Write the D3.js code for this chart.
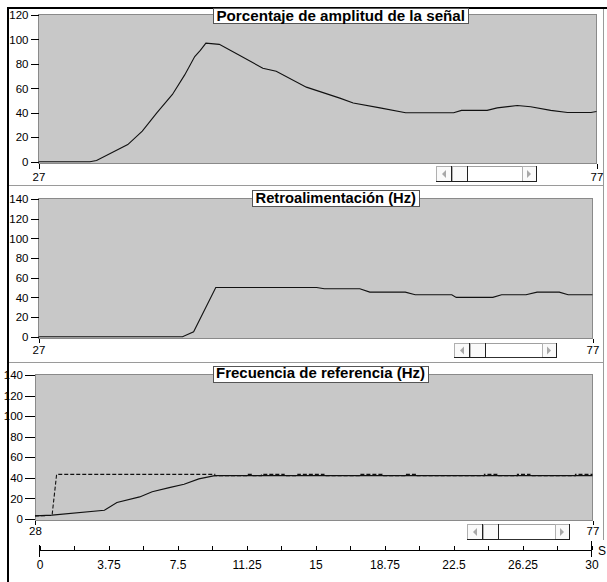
<!DOCTYPE html>
<html><head><meta charset="utf-8">
<script src="https://cdn.jsdelivr.net/npm/d3@7"></script>
<style>
html,body{margin:0;padding:0;background:#fff;}
svg{display:block;font-family:"Liberation Sans",Arial,Helvetica,sans-serif;}
</style></head><body>
<svg id="c" width="607" height="582"></svg>
<script>
// ---------------- DATA ----------------
const amplitudTitle = "Porcentaje de amplitud de la señal";
const amplitudX = [27,31.6,32.2,35,36.3,37.6,39,40.1,41,41.5,42,43.2,45,47.1,48.3,51,54,55.2,57.6,59.9,64.2,64.9,67.2,68.1,69.9,71.1,72.9,74.4,76.5,77];
const amplitudY = [0,0,1,14,25,40,55,71,86,91,97,96,87,76.5,74,61,52,48,44,40,40,42,42,44,46,45,42,40.3,40.3,41];

const retroTitle = "Retroalimentación (Hz)";
const retroX = [27,40,41,43,52.1,52.8,56,56.9,60.1,61,64.3,64.7,68,68.8,71,72,74,74.8,77];
const retroY = [0,0,5,50,50,48.7,48.7,45.3,45.3,42.6,42.6,40,40,42.6,42.6,45.3,45.3,42.6,42.6];

const frecTitle = "Frecuencia de referencia (Hz)";
const frecRealX = [28,29.5,34.1,35.2,37.2,38.3,39.8,41.1,42.4,43.8,77];
const frecRealY = [3,3.8,8.5,16,21.5,26.5,30.5,33.7,39,42.2,42.2];
const frecRefX = [28,29.5,29.9,43.8,43.8,46.6,46.6,47.1,47.1,47.9,47.9,49.9,49.9,51.1,51.1,53.4,53.4,56.5,56.5,58.5,58.5,60.5,60.5,61.5,61.5,67.5,67.5,68.6,68.6,70.4,70.4,71.5,71.5,75.5,75.5,77];
const frecRefY = [3,3.5,43.4,43.4,42.2,42.2,43.4,43.4,42.2,42.2,43.4,43.4,42.2,42.2,43.4,43.4,42.2,42.2,43.4,43.4,42.2,42.2,43.4,43.4,42.2,42.2,43.4,43.4,42.2,42.2,43.4,43.4,42.2,42.2,43.4,43.4];

const yTicks120 = [0,20,40,60,80,100,120];
const yTicks140 = [0,20,40,60,80,100,120,140];
const xEndsA = [27,77];
const xEndsB = [28,77];

const timeTicks = [0,3.75,7.5,11.25,15,18.75,22.5,26.25,30];
const timeLabels = ["0","3.75","7.5","11.25","15","18.75","22.5","26.25","30"];
const timeUnit = "S";

// ---------------- DRAW ----------------
const svg = d3.select("#c");
svg.append("rect").attr("width",607).attr("height",582).attr("fill","#fff");

// outer frame
svg.append("line").attr("x1",7).attr("x2",607).attr("y1",8).attr("y2",8).attr("stroke","#000").attr("stroke-width",2);
svg.append("line").attr("x1",8).attr("x2",8).attr("y1",7).attr("y2",582).attr("stroke","#000").attr("stroke-width",2);
svg.append("line").attr("x1",603.5).attr("x2",603.5).attr("y1",9).attr("y2",540).attr("stroke","#9a9a9a");
[185.5,362.5].forEach(yy=>{
  svg.append("line").attr("x1",9).attr("x2",603.5).attr("y1",yy).attr("y2",yy).attr("stroke","#9a9a9a");
});

function drawPanel(p){
  const g = svg.append("g");
  const x = d3.scaleLinear().domain([p.xEnds[0], p.xEnds[1]]).range([p.x0, p.x1]);
  const y = d3.scaleLinear().domain([0, p.yTicks[p.yTicks.length-1]]).range([p.yZero, p.yTop]);
  g.append("rect").attr("x",p.x0).attr("y",p.r0).attr("width",p.x1-p.x0).attr("height",p.r1-p.r0)
    .attr("fill","#c8c8c8").attr("stroke","#8a8a8a").attr("shape-rendering","crispEdges");

  const ya = d3.axisLeft(y).tickValues(p.yTicks).tickFormat(d=>String(d)).tickSize(p.tick).tickPadding(p.tickPad);
  const yg = g.append("g").attr("transform",`translate(${p.x0},0)`).call(ya);
  yg.select(".domain").remove();
  yg.selectAll("line").attr("stroke","#000").attr("shape-rendering","crispEdges");
  yg.selectAll("text").attr("fill","#000").style("font-size","11.5px").style("font-family",'"Liberation Sans",Arial,sans-serif');

  const xa = d3.axisBottom(x).tickValues(p.xEnds).tickFormat(d=>String(d)).tickSize(p.xTick).tickPadding(p.xPad);
  const xg = g.append("g").attr("transform",`translate(0,${p.r1})`).call(xa);
  xg.select(".domain").remove();
  xg.selectAll("line").attr("stroke","#000").attr("shape-rendering","crispEdges");
  xg.selectAll("text").attr("fill","#000").style("font-size","11.5px").style("font-family",'"Liberation Sans",Arial,sans-serif');

  const line = d3.line().x(d=>x(d[0])).y(d=>y(d[1]));
  p.series.forEach(s=>{
    const pts = s.xs.map((v,i)=>[v, s.ys[i]]);
    g.append("path").attr("d", line(pts)).attr("fill","none").attr("stroke","#111")
      .attr("stroke-width",1.1).attr("stroke-dasharray", s.dash || null);
  });

  // title box
  const t = p.title;
  g.append("rect").attr("x",t.x).attr("y",t.y).attr("width",t.w).attr("height",t.h)
    .attr("fill","#fff").attr("stroke","#555").attr("shape-rendering","crispEdges");
  g.append("text").attr("x",t.x+3).attr("y",t.base).text(t.text)
    .attr("textLength", t.w-6).attr("lengthAdjust","spacingAndGlyphs")
    .style("font-size","14px").style("font-weight","bold").attr("fill","#000");

  // scrollbar
  const sb = p.scroll, btn = 16;
  const sg = g.append("g").attr("shape-rendering","crispEdges");
  sg.append("rect").attr("x",sb.x).attr("y",sb.y).attr("width",sb.w).attr("height",sb.h).attr("fill","#fff");
  sg.append("line").attr("x1",sb.x).attr("x2",sb.x+sb.w).attr("y1",sb.y+0.5).attr("y2",sb.y+0.5).attr("stroke","#a0a0a0");
  sg.append("line").attr("x1",sb.x).attr("x2",sb.x+sb.w).attr("y1",sb.y+sb.h-0.5).attr("y2",sb.y+sb.h-0.5).attr("stroke","#303030");
  const button = (bx, bw) => {
    sg.append("rect").attr("x",bx).attr("y",sb.y).attr("width",bw).attr("height",sb.h).attr("fill","#fafafa");
    sg.append("line").attr("x1",bx+0.5).attr("x2",bx+0.5).attr("y1",sb.y).attr("y2",sb.y+sb.h).attr("stroke","#b0b0b0");
    sg.append("line").attr("x1",bx).attr("x2",bx+bw).attr("y1",sb.y+0.5).attr("y2",sb.y+0.5).attr("stroke","#b0b0b0");
    sg.append("line").attr("x1",bx+bw-0.5).attr("x2",bx+bw-0.5).attr("y1",sb.y).attr("y2",sb.y+sb.h).attr("stroke","#202020");
    sg.append("line").attr("x1",bx).attr("x2",bx+bw).attr("y1",sb.y+sb.h-0.5).attr("y2",sb.y+sb.h-0.5).attr("stroke","#202020");
  };
  button(sb.x, btn);
  button(sb.x+btn, btn);
  button(sb.x+sb.w-btn+1, btn-1);
  const cy = sb.y + sb.h/2;
  const lx = sb.x + btn/2;
  g.append("path").attr("d",`M${lx-2},${cy} L${lx+2},${cy-4} L${lx+2},${cy+4} Z`).attr("fill","#a8a8a8");
  const rx = sb.x + sb.w - btn/2;
  g.append("path").attr("d",`M${rx+2},${cy} L${rx-2},${cy-4} L${rx-2},${cy+4} Z`).attr("fill","#a8a8a8");
}

drawPanel({
  xEnds: xEndsA, yTicks: yTicks120,
  x0: 38.5, x1: 596.5, r0: 14.5, r1: 163.5, yZero: 161.7, yTop: 15,
  tick: 8, tickPad: 2, xTick: 5, xPad: 4,
  series: [{xs: amplitudX, ys: amplitudY}],
  title: {text: amplitudTitle, x: 213.5, y: 8.5, w: 254.5, h: 15, base: 20.5},
  scroll: {x: 436, y: 166, w: 101, h: 16}
});
drawPanel({
  xEnds: xEndsA, yTicks: yTicks140,
  x0: 38.5, x1: 592.5, r0: 198.5, r1: 338.5, yZero: 336.7, yTop: 199,
  tick: 8, tickPad: 2, xTick: 4, xPad: 3,
  series: [{xs: retroX, ys: retroY}],
  title: {text: retroTitle, x: 252.5, y: 190.5, w: 166.5, h: 16, base: 203},
  scroll: {x: 454, y: 343, w: 103, h: 15}
});
drawPanel({
  xEnds: xEndsB, yTicks: yTicks140,
  x0: 35, x1: 592.5, r0: 374.5, r1: 520.5, yZero: 519, yTop: 375,
  tick: 10, tickPad: 2, xTick: 4, xPad: 2,
  series: [{xs: frecRefX, ys: frecRefY, dash: "4,2"}, {xs: frecRealX, ys: frecRealY}],
  title: {text: frecTitle, x: 213, y: 366, w: 215, h: 16, base: 378},
  scroll: {x: 467, y: 524, w: 103, h: 16}
});

// bottom time axis
const tScale = d3.scaleLinear().domain([timeTicks[0], timeTicks[timeTicks.length-1]]).range([39.5, 591.5]);
const minorTicks = timeTicks.slice(0,-1).map((d,i)=>(d+timeTicks[i+1])/2);
const ag = svg.append("g").attr("transform","translate(0,549.5)");
ag.call(d3.axisBottom(tScale).tickValues(timeTicks).tickFormat((d,i)=>timeLabels[i]).tickSizeInner(-4).tickSizeOuter(0).tickPadding(11));
const mg = svg.append("g").attr("transform","translate(0,549.5)");
mg.call(d3.axisBottom(tScale).tickValues(minorTicks).tickFormat("").tickSizeInner(-4).tickSizeOuter(0));
mg.select(".domain").remove();
[ag, mg].forEach(a=>a.selectAll("line, path.domain").attr("stroke","#000").attr("shape-rendering","crispEdges"));
ag.selectAll("text").attr("fill","#000").style("font-size","12px").style("font-family",'"Liberation Sans",Arial,sans-serif');
[timeTicks[0], timeTicks[timeTicks.length-1]].forEach((d,i)=>{
  svg.append("line").attr("x1",tScale(d)).attr("x2",tScale(d)).attr("y1", i? 541:545).attr("y2",557)
    .attr("stroke","#000").attr("shape-rendering","crispEdges");
});
svg.append("text").attr("x",598).attr("y",555).text(timeUnit).style("font-size","12px").attr("fill","#000");
</script>
</body></html>
